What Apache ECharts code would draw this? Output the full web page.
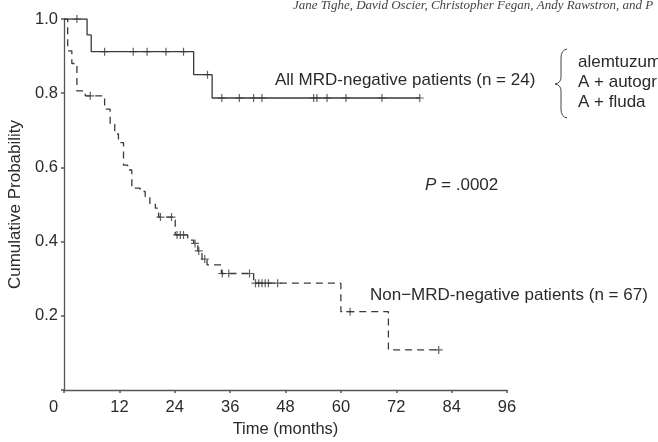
<!DOCTYPE html>
<html>
<head>
<meta charset="utf-8">
<script src="https://cdn.jsdelivr.net/npm/echarts@6/dist/echarts.min.js"></script>
<style>
html,body{margin:0;padding:0;background:#fff;}
#chart{width:658px;height:442px;}
</style>
</head>
<body>
<div id="chart"></div>
<script>
// ---- Data ----
var xTicks = [0, 12, 24, 36, 48, 60, 72, 84, 96];
var yTicks = [0.2, 0.4, 0.6, 0.8, 1.0];

// All MRD-negative patients (n = 24) — solid
var mrdNegEventTimes = [5.0, 5.9, 28.1, 32.1];
var mrdNegSurv = [0.957, 0.912, 0.850, 0.787];
var mrdNegCensor = [2.8, 8.8, 15.0, 18.0, 22.1, 25.9, 31.1, 34.2, 38.0, 41.1, 42.9, 54.1, 54.8, 57.0, 61.1, 68.9, 77.1];

// Non-MRD-negative patients (n = 67) — dashed
var nonMrdEventTimes = [0.8, 1.7, 2.8, 4.6, 8.8, 10.0, 11.0, 11.8, 12.9, 13.8, 14.7, 16.5, 17.6, 18.6, 19.8, 20.5, 24.1, 26.8, 28.1, 29.0, 29.9, 31.0, 34.1, 41.1, 60.0, 70.3];
var nonMrdSurv = [0.914, 0.880, 0.806, 0.793, 0.757, 0.716, 0.690, 0.667, 0.606, 0.593, 0.544, 0.535, 0.521, 0.503, 0.490, 0.466, 0.418, 0.404, 0.395, 0.375, 0.353, 0.337, 0.314, 0.288, 0.211, 0.108];
var nonMrdCensor = [5.7, 20.9, 23.3, 24.5, 25.2, 25.9, 28.4, 29.2, 30.5, 34.3, 35.7, 40.2, 41.5, 42.2, 42.9, 43.6, 44.3, 46.3, 62.0, 81.2];

var labelMrdNeg = 'All MRD-negative patients (n = 24)';
var labelNonMrd = 'Non\u2212MRD-negative patients (n = 67)';
var braceLines = ['alemtuzum', 'A + autogr', 'A + fluda'];
var pValueText = '{i|P} = .0002';
var headerText = 'Jane Tighe, David Oscier, Christopher Fegan, Andy Rawstron, and P';

// ---- Build step curves ----
function survAt(times, surv, t) {
  var p = 1.0;
  for (var i = 0; i < times.length; i++) { if (times[i] <= t) p = surv[i]; }
  return p;
}
function curve(times, surv, censor) {
  var d = [[0, 1.0]];
  for (var i = 0; i < times.length; i++) d.push([times[i], surv[i]]);
  var last = Math.max.apply(null, censor.concat(times));
  d.push([last, survAt(times, surv, last)]);
  return d;
}
function marks(times, surv, censor) {
  return censor.map(function (c) { return [c, survAt(times, surv, c)]; });
}

var FONT = '"Liberation Sans", Arial, Helvetica, sans-serif';
var INK = '#2b2b2b';
var LINE = '#3a3a3a';
var PLUS = 'path://M3.4,0 H4.6 V3.4 H8 V4.6 H4.6 V8 H3.4 V4.6 H0 V3.4 H3.4 Z';
var braceStyle = { stroke: '#444', fill: null, lineWidth: 1 };

var chart = echarts.init(document.getElementById('chart'), null, { renderer: 'canvas' });
chart.setOption({
  animation: false,
  backgroundColor: '#ffffff',
  grid: { left: 64, right: 151, top: 19, bottom: 52, containLabel: false, outerBoundsMode: 'none' },
  xAxis: {
    type: 'value', min: xTicks[0], max: xTicks[xTicks.length - 1], interval: 12,
    name: 'Time (months)', nameLocation: 'middle', nameGap: 31,
    nameTextStyle: { fontFamily: FONT, fontSize: 16.5, color: INK },
    axisLine: { show: true, lineStyle: { color: '#555', width: 1.3 } },
    axisTick: { show: true, length: 3, lineStyle: { color: '#555', width: 1.5 } },
    splitLine: { show: false },
    axisLabel: {
      fontFamily: FONT, fontSize: 16.5, color: INK, margin: 9,
      formatter: function (v) { return v === 0 ? '{z|0}' : String(v); },
      rich: { z: { fontFamily: FONT, fontSize: 16.5, color: INK, padding: [0, 21, 0, 0] } }
    }
  },
  yAxis: {
    type: 'value', min: 0, max: 1.0, interval: 0.2,
    name: 'Cumulative Probability', nameLocation: 'middle', nameGap: 33,
    nameTextStyle: { fontFamily: FONT, fontSize: 17, color: INK },
    axisLine: { show: true, lineStyle: { color: '#555', width: 1.3 } },
    axisTick: { show: true, length: 3, lineStyle: { color: '#555', width: 1.5 } },
    splitLine: { show: false },
    axisLabel: {
      fontFamily: FONT, fontSize: 16.5, color: INK, margin: 6,
      formatter: function (v) { return v > 0 ? v.toFixed(1) : ''; }
    }
  },
  series: [
    {
      type: 'line', step: 'end', symbol: 'none', z: 3,
      data: curve(mrdNegEventTimes, mrdNegSurv, mrdNegCensor),
      lineStyle: { color: LINE, width: 1.3, type: 'solid' }
    },
    {
      type: 'scatter', symbol: PLUS, symbolSize: [8, 8], z: 4,
      itemStyle: { color: LINE },
      data: marks(mrdNegEventTimes, mrdNegSurv, mrdNegCensor)
    },
    {
      type: 'line', step: 'end', symbol: 'none', z: 3,
      data: curve(nonMrdEventTimes, nonMrdSurv, nonMrdCensor),
      lineStyle: { color: LINE, width: 1.3, type: [7, 5] }
    },
    {
      type: 'scatter', symbol: PLUS, symbolSize: [8, 8], z: 4,
      itemStyle: { color: LINE },
      data: marks(nonMrdEventTimes, nonMrdSurv, nonMrdCensor)
    }
  ],
  graphic: [
    { type: 'text', x: 293, y: 6, style: { text: headerText, font: 'italic 13px "Liberation Serif", "DejaVu Serif", serif', fill: '#444', verticalAlign: 'middle' } },
    { type: 'text', x: 275, y: 80, style: { text: labelMrdNeg, font: '17px ' + FONT, fill: INK, verticalAlign: 'middle' } },
    { type: 'bezierCurve', shape: { x1: 567, y1: 49, x2: 561, y2: 58, cpx1: 561, cpy1: 50 }, style: braceStyle },
    { type: 'line', shape: { x1: 561, y1: 58, x2: 561, y2: 77 }, style: braceStyle },
    { type: 'bezierCurve', shape: { x1: 561, y1: 77, x2: 555, y2: 84, cpx1: 561, cpy1: 83 }, style: braceStyle },
    { type: 'bezierCurve', shape: { x1: 555, y1: 84, x2: 561, y2: 91, cpx1: 561, cpy1: 85 }, style: braceStyle },
    { type: 'line', shape: { x1: 561, y1: 91, x2: 561, y2: 109 }, style: braceStyle },
    { type: 'bezierCurve', shape: { x1: 561, y1: 109, x2: 567, y2: 118, cpx1: 561, cpy1: 117 }, style: braceStyle },
    { type: 'text', x: 578, y: 62, style: { text: braceLines[0], font: '17px ' + FONT, fill: INK, verticalAlign: 'middle' } },
    { type: 'text', x: 578, y: 82, style: { text: braceLines[1], font: '17px ' + FONT, fill: INK, verticalAlign: 'middle' } },
    { type: 'text', x: 578, y: 102, style: { text: braceLines[2], font: '17px ' + FONT, fill: INK, verticalAlign: 'middle' } },
    { type: 'text', x: 425, y: 185, style: { text: pValueText, font: '17px ' + FONT, fill: INK, verticalAlign: 'middle', rich: { i: { fontStyle: 'italic', fontFamily: FONT, fontSize: 17 } } } },
    { type: 'text', x: 370, y: 295, style: { text: labelNonMrd, font: '17px ' + FONT, fill: INK, verticalAlign: 'middle' } }
  ]
});
</script>
</body>
</html>
